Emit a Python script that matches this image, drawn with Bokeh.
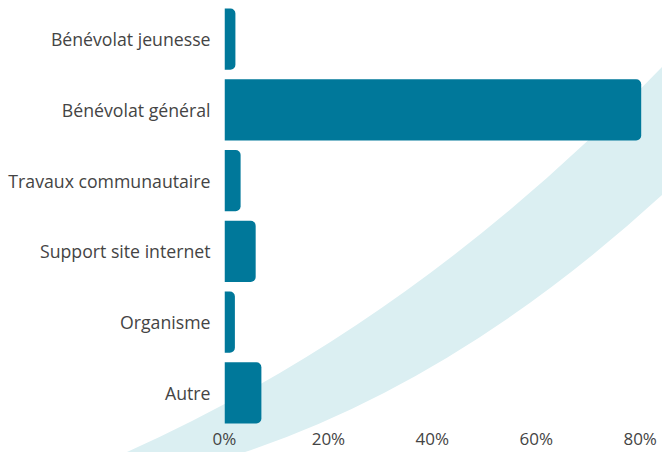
from urllib.parse import quote
from bokeh.plotting import figure
from bokeh.models import Range1d, FixedTicker, PrintfTickFormatter, ColumnDataSource
from bokeh.embed import file_html
from bokeh.resources import INLINE

categories = ["Bénévolat jeunesse", "Bénévolat général", "Travaux communautaire",
              "Support site internet", "Organisme", "Autre"]
values = [2.1, 80.2, 3.1, 6.0, 2.0, 7.1]
x_ticks = [0, 20, 40, 60, 80]

BAR = "#00789A"
BAND = "#DBEFF2"
TEXT = "#444444"
FONT = "Open Sans"
W, H = 662, 452

positions = list(range(len(categories)))
src = ColumnDataSource(dict(y=positions, right=values, cat=categories))

p = figure(width=W, height=H, output_backend="svg", toolbar_location=None,
           x_range=Range1d(0, 84.3), y_range=Range1d(5.475, -0.545),
           min_border_left=224, min_border_right=0, min_border_top=0, min_border_bottom=0)
p.outline_line_color = None
p.grid.visible = False
p.background_fill_alpha = 0
p.border_fill_alpha = 0

# decorative background band (page decoration drawn as a CSS background)
up = [(127, 452), (419.5, 320.5), (662, 67)]
lo = [(662, 195), (460, 380), (245, 452)]
path = ("M{0[0]},{0[1]} Q{1[0]},{1[1]} {2[0]},{2[1]} L{3[0]},{3[1]} "
        "Q{4[0]},{4[1]} {5[0]},{5[1]} Z").format(*(up + lo))
svg = (f"<svg xmlns='http://www.w3.org/2000/svg' width='{W}' height='{H}'>"
       f"<path d='{path}' fill='{BAND}'/></svg>")
p.styles = {"background-image": f"url(\"data:image/svg+xml,{quote(svg)}\")",
            "background-repeat": "no-repeat", "background-color": "white"}

p.hbar(y="y", right="right", left=0, height=0.864, source=src, fill_color=BAR,
       line_color=None, border_radius=(0, 5, 5, 0))

yax = p.yaxis[0]
yax.ticker = FixedTicker(ticks=positions)
yax.major_label_overrides = {i: c for i, c in enumerate(categories)}
xax = p.xaxis[0]
xax.ticker = FixedTicker(ticks=x_ticks)
xax.formatter = PrintfTickFormatter(format="%d%%")
for ax in (xax, yax):
    ax.axis_line_color = None
    ax.major_tick_line_color = None
    ax.minor_tick_line_color = None
    ax.major_tick_out = 0
    ax.major_tick_in = 0
    ax.major_label_text_font = FONT
    ax.major_label_text_color = TEXT
yax.major_label_text_font_size = "17.7px"
xax.major_label_text_font_size = "17px"
yax.major_label_standoff = 14
xax.major_label_standoff = 0

open("out.html", "w").write(file_html(p, INLINE))
